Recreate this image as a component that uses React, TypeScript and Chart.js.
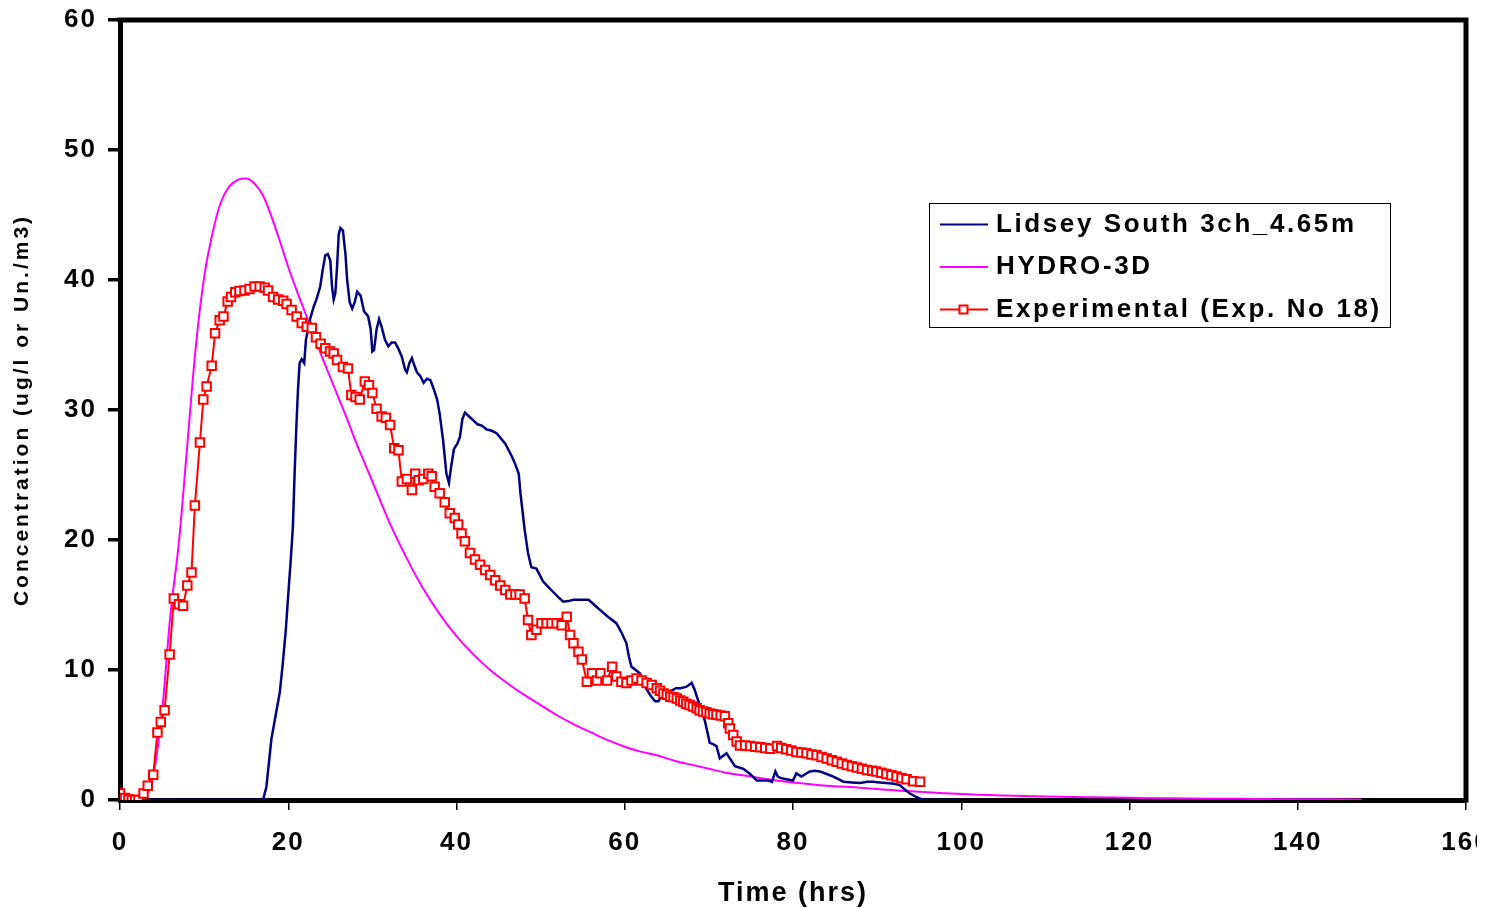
import React, { useEffect, useRef } from 'react';
import { Chart, registerables } from 'chart.js';

Chart.register(...registerables);

// ---------- data ----------
const xTickStep = 20; // hours
const yTickStep = 10; // concentration
const xMax = 160;
const yMax = 60;

const seriesLabels = ['Lidsey South 3ch_4.65m', 'HYDRO-3D', 'Experimental (Exp. No 18)'];
const xTitle = 'Time (hrs)';
const yTitle = 'Concentration (ug/l or Un./m3)';

const lidseyTime = [
  0, 17.0, 17.4, 18.0, 18.5, 19.0, 19.35, 19.7, 20.0, 20.3, 20.55, 20.75, 20.95, 21.15, 21.35, 21.6, 21.9,
  22.1, 22.6, 23.0, 23.4, 23.8, 24.1, 24.4, 24.7, 25.0, 25.2, 25.4, 25.6, 25.8, 26.0, 26.2, 26.5, 26.8,
  27.0, 27.3, 27.6, 27.9, 28.2, 28.6, 29.0, 29.5, 29.8, 30.0, 30.2, 30.5, 30.8, 31.1, 31.5, 31.9, 32.3,
  32.7, 33.1, 33.5, 33.9, 34.1, 34.4, 34.7, 35.0, 35.3, 35.7, 36.1, 36.5, 36.9, 37.3, 37.7, 38.0, 38.4,
  38.8, 39.1, 39.4, 39.7, 40.1, 40.4, 40.7, 41.0, 41.5, 42.0, 42.5, 43.0, 43.6, 44.2, 44.8, 45.3, 45.8,
  46.2, 46.6, 47.0, 47.4, 47.6, 47.8, 48.1, 48.5, 48.9, 49.5, 49.9, 50.3, 50.9, 51.5, 52.1, 52.7, 53.3,
  53.9, 54.8, 55.7, 56.4, 57.1, 58.0, 59.0, 59.6, 60.2, 60.5, 60.8, 61.3, 61.8, 62.2, 62.6, 63.1, 63.6,
  64.0, 64.5, 64.95, 65.5, 66.1, 66.6, 67.3, 67.95, 68.3, 68.7, 69.1, 69.5, 69.8, 70.1, 70.5, 70.9, 71.3,
  71.7, 72.1, 72.6, 73.1, 73.6, 74.1, 74.9, 75.7, 76.4, 77.1, 77.5, 77.9, 78.2, 78.5, 79.2, 80.0, 80.4,
  81.0, 81.5, 82.0, 82.6, 83.2, 84.0, 84.8, 85.4, 86.0, 87.0, 87.96, 88.8, 89.5, 90.3, 91.1, 92.0, 92.7,
  93.3, 93.9, 94.6, 95.3, 96.0, 99.8,
];
const lidseyConc = [
  0, 0, 1.0, 4.7, 6.5, 8.3, 10.5, 13.0, 15.8, 18.5, 21.0, 25.0, 28.5, 31.5, 33.6, 33.9, 33.6,
  35.4, 37.0, 37.9, 38.6, 39.5, 40.8, 41.9, 42.0, 41.5, 39.5, 38.5, 39.0, 41.0, 43.5, 44.0, 43.8, 42.0,
  40.0, 38.3, 37.8, 38.3, 39.1, 38.8, 37.6, 37.2, 36.2, 34.5, 34.6, 36.2, 37.0, 36.4, 35.4, 34.9, 35.2,
  35.2, 34.7, 34.1, 33.1, 32.9, 33.6, 34.0, 33.4, 32.9, 32.6, 32.1, 32.4, 32.3, 31.6, 30.8, 29.7, 27.7,
  25.1, 24.4, 25.8, 27.0, 27.4, 27.9, 29.3, 29.8, 29.5, 29.2, 28.9, 28.8, 28.5, 28.4, 28.2, 27.8, 27.4,
  26.9, 26.4, 25.8, 25.1, 23.6, 22.5, 20.8, 19.0, 17.9, 17.8, 17.3, 16.8, 16.4, 16.0, 15.6, 15.25, 15.3,
  15.4, 15.4, 15.4, 15.0, 14.6, 14.1, 13.6, 12.9, 12.05, 11.0, 10.25, 10.0, 9.75, 9.1, 8.5, 8.0, 7.6,
  7.6, 8.1, 8.2, 8.4, 8.6, 8.6, 8.7, 9.0, 8.5, 7.7, 6.9, 6.15, 5.3, 4.4, 4.3, 4.15, 3.2,
  3.4, 3.6, 3.1, 2.6, 2.5, 2.4, 2.0, 1.5, 1.5, 1.5, 1.4, 2.2, 1.8, 1.7, 1.6, 1.5, 2.05,
  1.8, 2.0, 2.2, 2.25, 2.2, 2.0, 1.8, 1.6, 1.4, 1.35, 1.3, 1.4, 1.4, 1.35, 1.3, 1.25, 1.15,
  0.8, 0.5, 0.25, 0.05, 0, 0,
];

const hydroTime = [
  0, 2, 3, 3.5, 4, 5, 6, 7, 8, 9, 10, 11, 12, 13, 14, 15, 16, 17, 18, 19, 20, 21, 22, 23, 24, 25, 26,
  27, 28, 30, 32, 34, 36, 38, 40, 42, 44, 46, 48, 50, 52, 54, 56, 58, 60, 62, 64, 66, 68, 70, 72, 74,
  76, 78, 80, 84, 88, 92, 96, 100, 105, 110, 115, 120, 125, 130, 135, 140, 147.6,
];
const hydroConc = [
  0, 0, 0.3, 0.8, 2.0, 6.8, 14.3, 19.8, 27.3, 34.8, 40.2, 43.6, 46.0, 47.2, 47.7, 47.8, 47.4, 46.5,
  44.9, 43.0, 41.0, 39.2, 37.5, 35.8, 34.1, 32.5, 30.9, 29.3, 27.6, 24.5, 21.4, 18.7, 16.3, 14.3,
  12.6, 11.2, 10.0, 9.0, 8.1, 7.3, 6.5, 5.8, 5.2, 4.6, 4.1, 3.7, 3.4, 3.0, 2.7, 2.4, 2.1, 1.9, 1.7,
  1.5, 1.35, 1.1, 0.95, 0.75, 0.6, 0.46, 0.35, 0.27, 0.21, 0.17, 0.13, 0.1, 0.08, 0.06, 0.04,
];

const expTime = [
  0, 0.6, 1.0, 1.4, 1.8, 2.2, 2.8, 3.3, 3.95, 4.45, 4.85, 5.3, 5.9, 6.4, 7.0, 7.5, 8.0, 8.5, 8.9, 9.5,
  9.9, 10.3, 10.9, 11.3, 11.85, 12.3, 12.8, 13.2, 13.7, 14.2, 14.8, 15.4, 16.0, 16.6, 17.2, 17.6, 18.2,
  18.8, 19.4, 19.8, 20.4, 21.0, 21.6, 22.2, 22.8, 23.3, 23.85, 24.4, 24.96, 25.4, 25.8, 26.5, 27.1,
  27.5, 28.0, 28.5, 29.1, 29.6, 30.0, 30.5, 31.1, 31.6, 32.1, 32.6, 33.1, 33.5, 34.1, 34.7, 35.1, 35.5,
  36.05, 36.65, 37.05, 37.4, 38.0, 38.6, 39.2, 39.8, 40.2, 40.6, 41.0, 41.6, 42.2, 42.8, 43.4, 44.0,
  44.6, 45.2, 45.8, 46.4, 47.0, 47.5, 48.1, 48.5, 48.9, 49.5, 50.1, 50.7, 51.3, 51.9, 52.5, 53.1, 53.5,
  53.9, 54.5, 54.9, 55.5, 56.1, 56.7, 57.1, 57.9, 58.5, 59.0, 59.6, 60.2, 60.8, 61.4, 62.0, 62.6, 63.2,
  63.8, 64.2, 64.6, 65.0, 65.4, 65.8, 66.2, 66.6, 66.95, 67.3, 67.7, 68.1, 68.55, 68.9, 69.3, 69.7,
  70.1, 70.5, 70.9, 71.4, 71.9, 72.3, 72.5, 72.9, 73.3, 73.7, 74.3, 74.9, 75.5, 76.1, 76.7, 77.3, 78.1,
  78.6, 79.2, 79.8, 80.4, 81.0, 81.6, 82.2, 82.8, 83.4, 84.0, 84.6, 85.2, 85.8, 86.4, 87.0, 87.6, 88.2,
  88.8, 89.4, 89.9, 90.5, 91.1, 91.7, 92.3, 92.9, 93.5, 94.3, 95.1,
];
const expConc = [
  0.5, 0.15, 0.05, 0, 0, 0, 0.5, 1.1, 1.95, 5.2, 6.0, 6.9, 11.2, 15.5, 15.05, 14.95, 16.5, 17.5, 22.65,
  27.5, 30.8, 31.8, 33.4, 35.9, 36.9, 37.2, 38.35, 38.7, 39.05, 39.15, 39.2, 39.3, 39.5, 39.5, 39.4,
  39.2, 38.7, 38.5, 38.4, 38.15, 37.7, 37.2, 36.7, 36.4, 36.3, 35.6, 35.1, 34.75, 34.5, 34.35, 33.85,
  33.3, 33.2, 31.15, 31.0, 30.8, 32.2, 31.9, 31.3, 30.1, 29.5, 29.4, 28.85, 27.05, 26.9, 24.5, 24.7,
  23.85, 25.1, 24.6, 24.7, 25.1, 24.9, 24.1, 23.6, 22.9, 22.05, 21.7, 21.2, 20.5, 19.9, 19.0, 18.5,
  18.1, 17.7, 17.3, 16.9, 16.5, 16.15, 15.8, 15.8, 15.8, 15.5, 13.85, 12.7, 13.1, 13.6, 13.6, 13.6,
  13.6, 13.45, 14.1, 12.7, 12.05, 11.4, 10.8, 9.1, 9.75, 9.2, 9.75, 9.2, 10.25, 9.5, 9.1, 9.0, 9.2,
  9.35, 9.2, 9.0, 8.85, 8.6, 8.4, 8.2, 8.1, 7.95, 7.9, 7.8, 7.65, 7.55, 7.4, 7.3, 7.2, 7.05, 6.9, 6.8,
  6.75, 6.65, 6.6, 6.55, 6.5, 6.45, 5.9, 5.5, 5.0, 4.5, 4.2, 4.2, 4.15, 4.1, 4.05, 4.0, 3.95, 4.15,
  4.0, 3.9, 3.8, 3.7, 3.65, 3.6, 3.5, 3.45, 3.3, 3.2, 3.05, 2.95, 2.8, 2.7, 2.6, 2.5, 2.4, 2.3, 2.25,
  2.2, 2.1, 2.0, 1.9, 1.8, 1.7, 1.6, 1.45, 1.4,
];

const FONT = '"Liberation Sans", Arial, Helvetica, sans-serif';

const toPoints = (xs: number[], ys: number[]) => xs.map((x, i) => ({ x, y: ys[i] }));

const chartDecor = {
  id: 'chartDecor',
  beforeDraw(chart: any) {
    const ctx = chart.ctx as any;
    ctx.letterSpacing = '2px';
    const ys = chart.scales.y;
    if (ys && !ys.__patched) {
      const orig = ys.drawTitle.bind(ys);
      ys.drawTitle = (...args: any[]) => {
        const prev = ctx.letterSpacing;
        ctx.letterSpacing = '3px';
        orig(...args);
        ctx.letterSpacing = prev;
      };
      ys.__patched = true;
    }
  },
  afterDraw(chart: any) {
    const { ctx, chartArea } = chart;
    ctx.save();
    (ctx as any).letterSpacing = '0px';
    // frame: top and right borders
    ctx.strokeStyle = '#000';
    ctx.lineWidth = 5;
    ctx.lineCap = 'square';
    ctx.beginPath();
    ctx.moveTo(chartArea.left, chartArea.top);
    ctx.lineTo(chartArea.right, chartArea.top);
    ctx.lineTo(chartArea.right, chartArea.bottom);
    ctx.stroke();

    // legend box
    const bx = 929.5, by = 203.5, bw = 461, bh = 124;
    ctx.fillStyle = '#fff';
    ctx.fillRect(bx, by, bw, bh);
    ctx.lineWidth = 1;
    ctx.strokeStyle = '#000';
    ctx.strokeRect(bx, by, bw, bh);
    const rows = [224.5, 267, 309.5];
    chart.data.datasets.forEach((ds: any, i: number) => {
      const y = rows[i];
      ctx.strokeStyle = ds.borderColor;
      ctx.lineWidth = 2;
      ctx.beginPath();
      ctx.moveTo(941, y);
      ctx.lineTo(987, y);
      ctx.stroke();
      if (ds.pointRadius > 0) {
        ctx.fillStyle = '#fff';
        ctx.fillRect(959.5, y - 4, 8, 8);
        ctx.strokeRect(959.5, y - 4, 8, 8);
      }
      ctx.fillStyle = '#000';
      (ctx as any).letterSpacing = '2.6px';
      ctx.font = `bold 26px ${FONT}`;
      ctx.textBaseline = 'middle';
      ctx.textAlign = 'left';
      ctx.fillText(ds.label, 996, y);
      (ctx as any).letterSpacing = '0px';
    });
    ctx.restore();
  },
};

export default function App() {
  const ref = useRef<HTMLCanvasElement>(null);

  useEffect(() => {
    if (!ref.current) return;
    const chart = new Chart(ref.current, {
      type: 'line',
      data: {
        datasets: [
          {
            label: seriesLabels[0],
            data: toPoints(lidseyTime, lidseyConc),
            borderColor: '#000080',
            backgroundColor: '#000080',
            borderWidth: 2.5,
            pointRadius: 0,
            tension: 0,
            order: 1,
          },
          {
            label: seriesLabels[1],
            data: toPoints(hydroTime, hydroConc),
            borderColor: '#FF00FF',
            backgroundColor: '#FF00FF',
            borderWidth: 2,
            pointRadius: 0,
            cubicInterpolationMode: 'monotone',
            order: 2,
          },
          {
            label: seriesLabels[2],
            data: toPoints(expTime, expConc),
            borderColor: '#FF0000',
            backgroundColor: '#FF0000',
            borderWidth: 2,
            pointStyle: 'rect',
            pointRadius: 6,
            pointBorderWidth: 2,
            pointBorderColor: '#FF0000',
            pointBackgroundColor: '#FFFFFF',
            tension: 0,
            order: 0,
          },
        ],
      },
      options: {
        animation: false,
        responsive: false,
        devicePixelRatio: 1,
        layout: { padding: { left: 0, top: 20, right: 54, bottom: 0 } },
        plugins: {
          legend: { display: false },
          tooltip: { enabled: false },
        },
        scales: {
          x: {
            type: 'linear',
            min: 0,
            max: xMax,
            afterFit: (s: any) => {
              s.height = 108;
            },
            ticks: {
              stepSize: xTickStep,
              autoSkip: false,
              maxRotation: 0,
              padding: 17,
              color: '#000',
              font: { family: FONT, size: 26, weight: 'bold' },
            },
            grid: {
              drawOnChartArea: false,
              drawTicks: true,
              tickLength: 10,
              color: '#000',
              lineWidth: 1.5,
            },
            border: { display: true, color: '#000', width: 5 },
            title: {
              display: true,
              text: xTitle,
              color: '#000',
              font: { family: FONT, size: 27, weight: 'bold', lineHeight: 1.1 },
              padding: { top: 0, bottom: 0 },
            },
          },
          y: {
            type: 'linear',
            min: 0,
            max: yMax,
            afterFit: (s: any) => {
              s.width = 120;
            },
            ticks: {
              stepSize: yTickStep,
              padding: 11,
              color: '#000',
              font: { family: FONT, size: 26, weight: 'bold', lineHeight: 0.6 },
            },
            grid: {
              drawOnChartArea: false,
              drawTicks: true,
              tickLength: 12,
              color: '#000',
              lineWidth: 3.5,
            },
            border: { display: true, color: '#000', width: 5 },
            title: {
              display: true,
              text: yTitle,
              color: '#000',
              font: { family: FONT, size: 21, weight: 'bold', lineHeight: 1.2 },
              padding: { top: 9.6, bottom: 0 },
            },
          },
        },
      },
      plugins: [chartDecor],
    } as any);
    return () => chart.destroy();
  }, []);

  return (
    <div
      style={{
        position: 'fixed',
        left: 0,
        top: 0,
        width: 1477,
        height: 908,
        overflow: 'hidden',
        background: '#fff',
      }}
    >
      <canvas ref={ref} width={1520} height={908} style={{ display: 'block', width: 1520, height: 908 }} />
    </div>
  );
}
